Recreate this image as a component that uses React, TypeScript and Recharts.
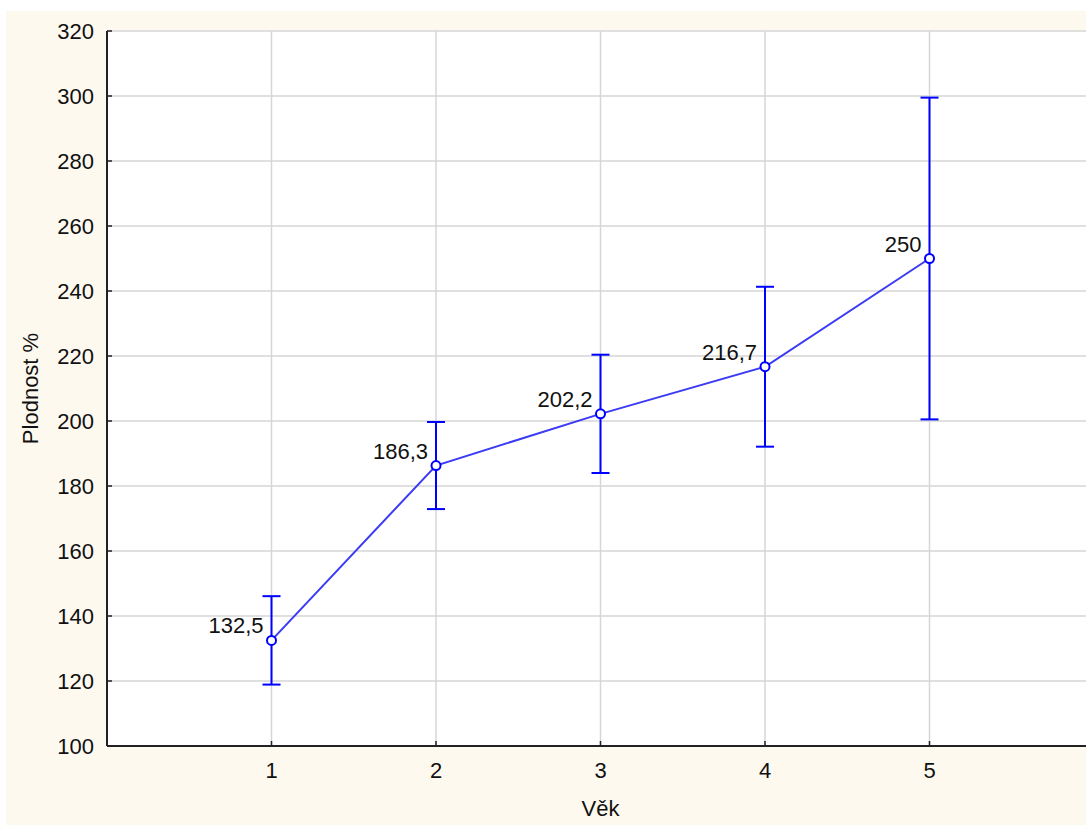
import React from 'react';
import {
  LineChart, Line, XAxis, YAxis, CartesianGrid, ErrorBar, LabelList,
} from 'recharts';

const ages = [1, 2, 3, 4, 5];
const means = [132.5, 186.3, 202.2, 216.7, 250];
const errors = [13.6, 13.4, 18.2, 24.6, 49.5];
const yTicks = [100, 120, 140, 160, 180, 200, 220, 240, 260, 280, 300, 320];
const xTicks = [1, 2, 3, 4, 5];

const data = ages.map((a, i) => ({ x: a, y: means[i], err: errors[i] }));

const FONT = '"Liberation Sans", Arial, sans-serif';
const TEXT = '#111';
const AXIS = '#222';

const YTick = (props: any) => {
  const { x, y, payload } = props;
  return (
    <g>
      <line x1={x + 13} y1={y} x2={x + 18} y2={y} stroke={AXIS} strokeWidth={1.5} />
      <text x={x} y={y} dy={8} textAnchor="end" fontSize={22} fontFamily={FONT} fill={TEXT}>
        {payload.value}
      </text>
    </g>
  );
};

const XTick = (props: any) => {
  const { x, y, payload } = props;
  return (
    <g>
      <line x1={x} y1={y - 16} x2={x} y2={y - 21} stroke={AXIS} strokeWidth={1.5} />
      <text x={x} y={y} dy={16} textAnchor="middle" fontSize={22} fontFamily={FONT} fill={TEXT}>
        {payload.value}
      </text>
    </g>
  );
};

const TopTick = (props: any) => {
  const { x, y } = props;
  return <line x1={x} y1={y} x2={x} y2={y + 5} stroke={AXIS} strokeWidth={1.5} />;
};

const ValueLabel = (props: any) => {
  const { x, y, value } = props;
  return (
    <text x={x - 8} y={y - 7} textAnchor="end" fontSize={22} fontFamily={FONT} fill={TEXT}>
      {String(value).replace('.', ',')}
    </text>
  );
};

const Dot = (props: any) => {
  const { cx, cy } = props;
  return <circle cx={cx} cy={cy} r={4.5} fill="#fff" stroke="#0000ff" strokeWidth={2} />;
};

export default function App() {
  return (
    <div style={{ position: 'absolute', left: 0, top: 0, width: 1086, height: 825, overflow: 'hidden', background: '#fff' }}>
      <div style={{ position: 'absolute', left: 6, top: 11, width: 1080, height: 814, background: '#fef9ef' }} />
      <div style={{ position: 'absolute', left: 0, top: 0 }}>
        <LineChart
          width={1100}
          height={825}
          data={data}
          margin={{ top: 31, right: 6, bottom: 0, left: 0 }}
        >
          <CartesianGrid stroke="#d6d6d6" strokeWidth={1.5} fill="#fff" fillOpacity={1} />
          <XAxis
            dataKey="x"
            type="number"
            domain={[0, 6]}
            ticks={xTicks}
            allowDataOverflow
            height={79}
            tickSize={0}
            tickMargin={16}
            tickLine={false}
            axisLine={{ stroke: AXIS, strokeWidth: 2 }}
            tick={<XTick />}
            label={({ viewBox }: any) => (
              <text
                x={viewBox.x + viewBox.width / 2}
                y={viewBox.y + 70}
                textAnchor="middle"
                fontSize={22}
                fontFamily={FONT}
                fill={TEXT}
              >
                Věk
              </text>
            )}
          />
          <XAxis
            xAxisId="top"
            orientation="top"
            type="number"
            domain={[0, 6]}
            ticks={xTicks}
            height={0}
            tickSize={0}
            tickMargin={0}
            tickLine={false}
            axisLine={{ stroke: AXIS, strokeWidth: 2 }}
            tick={<TopTick />}
          />
          <YAxis
            type="number"
            domain={[100, 320]}
            ticks={yTicks}
            allowDataOverflow
            width={107}
            tickSize={0}
            tickMargin={13}
            tickLine={false}
            axisLine={{ stroke: AXIS, strokeWidth: 2 }}
            tick={<YTick />}
            label={({ viewBox }: any) => (
              <text
                x={30}
                y={viewBox.y + viewBox.height / 2}
                transform={`rotate(-90 30 ${viewBox.y + viewBox.height / 2})`}
                textAnchor="middle"
                dominantBaseline="central"
                fontSize={22}
                fontFamily={FONT}
                fill={TEXT}
              >
                Plodnost %
              </text>
            )}
          />
          <Line
            dataKey="y"
            stroke="#3b3bf5"
            strokeWidth={2}
            dot={<Dot />}
            activeDot={false}
            isAnimationActive={false}
          >
            <ErrorBar dataKey="err" direction="y" width={9} stroke="#0000ff" strokeWidth={2} isAnimationActive={false} />
            <LabelList dataKey="y" content={<ValueLabel />} />
          </Line>
        </LineChart>
      </div>
    </div>
  );
}
